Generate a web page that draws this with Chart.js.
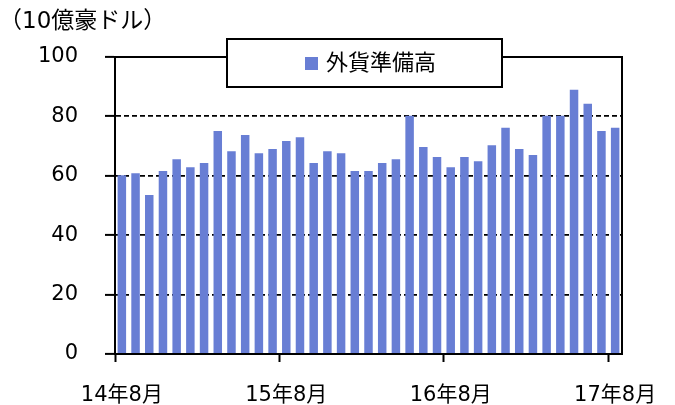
<!DOCTYPE html>
<html>
<head>
<meta charset="utf-8">
<script src="https://cdn.jsdelivr.net/npm/chart.js@4"></script>
<style>
  html, body { margin: 0; padding: 0; background: #fff; }
  #wrap { width: 675px; height: 405px; }
</style>
</head>
<body>
<div id="wrap"><canvas id="fxChart" width="675" height="405"></canvas></div>
<script>
const months = [
  "14年8月", "14年9月", "14年10月", "14年11月", "14年12月",
  "15年1月", "15年2月", "15年3月", "15年4月", "15年5月", "15年6月", "15年7月",
  "15年8月", "15年9月", "15年10月", "15年11月", "15年12月",
  "16年1月", "16年2月", "16年3月", "16年4月", "16年5月", "16年6月", "16年7月",
  "16年8月", "16年9月", "16年10月", "16年11月", "16年12月",
  "17年1月", "17年2月", "17年3月", "17年4月", "17年5月", "17年6月", "17年7月",
  "17年8月"
];
const reserves = [
  60.2, 60.9, 53.5, 61.6, 65.6, 62.9, 64.3, 75.1, 68.3, 73.7, 67.6, 69.0,
  71.7, 73.0, 64.3, 68.3, 67.6, 61.6, 61.6, 64.3, 65.6, 80.2, 69.7, 66.3,
  62.9, 66.3, 64.9, 70.3, 76.2, 69.0, 67.0, 80.2, 80.2, 89.0, 84.3, 75.1,
  76.2
];
const yTicks = [0, 20, 40, 60, 80, 100];
const seriesName = "外貨準備高";
const unitLabel = "（10億豪ドル）";

const FONT = "'DejaVu Sans', 'Noto Sans CJK JP', sans-serif";
const BAR_COLOR = "#687ED4";

// plot frame, unit text and the boxed legend
const framePlugin = {
  id: "frame",
  afterDraw(chart) {
    const c = chart.ctx;
    const a = chart.chartArea;
    c.save();
    c.strokeStyle = "#000";
    c.lineWidth = 2;
    c.strokeRect(a.left, a.top, a.right - a.left, a.bottom - a.top);

    c.fillStyle = "#000";
    c.font = "23px " + FONT;
    c.textBaseline = "middle";
    c.textAlign = "left";
    c.fillText(unitLabel, -1, 22);

    // legend box
    c.fillStyle = "#fff";
    c.fillRect(227, 39, 275, 48);
    c.strokeRect(227, 39, 275, 48);
    c.fillStyle = chart.data.datasets[0].backgroundColor;
    c.fillRect(305, 57, 13, 13);
    c.fillStyle = "#000";
    c.font = "22px " + FONT;
    c.fillText(chart.data.datasets[0].label, 326, 64);
    c.restore();
  }
};

new Chart(document.getElementById("fxChart").getContext("2d"), {
  type: "bar",
  data: {
    labels: months,
    datasets: [
      {
        label: seriesName,
        data: reserves,
        backgroundColor: BAR_COLOR,
        categoryPercentage: 1,
        barPercentage: 0.62
      }
    ]
  },
  options: {
    responsive: false,
    animation: false,
    layout: { padding: { top: 57, right: 53, left: 0, bottom: 0 } },
    plugins: {
      legend: { display: false },
      tooltip: { enabled: false }
    },
    scales: {
      x: {
        offset: true,
        afterFit: (s) => {
          s.height = 51;
          s.paddingLeft = 0;
          s.paddingRight = 0;
        },
        grid: {
          offset: true,
          drawOnChartArea: false,
          drawTicks: true,
          tickLength: 8,
          tickWidth: 2,
          tickColor: (ctx) => (ctx.index % 12 === 0 ? "#000" : "rgba(0,0,0,0)")
        },
        border: { color: "#000", width: 2 },
        ticks: {
          autoSkip: false,
          maxRotation: 0,
          padding: 21,
          color: "#000",
          font: { family: FONT, size: 21 },
          callback: (v, i) => (i % 12 === 0 ? months[i] : "")
        }
      },
      y: {
        min: 0,
        max: 100,
        z: 1,
        afterFit: (s) => {
          s.width = 115;
          s.paddingTop = 0;
          s.paddingBottom = 0;
        },
        afterBuildTicks: (s) => { s.ticks = yTicks.map((v) => ({ value: v })); },
        grid: {
          color: "#000",
          lineWidth: 1.8,
          tickLength: 10,
          tickWidth: 2,
          tickColor: "#000",
          tickBorderDash: []
        },
        border: { color: "#000", width: 2, dash: [5, 3] },
        ticks: {
          padding: 27,
          color: "#000",
          font: { family: FONT, size: 21 }
        }
      }
    }
  },
  plugins: [framePlugin]
});
</script>
</body>
</html>
